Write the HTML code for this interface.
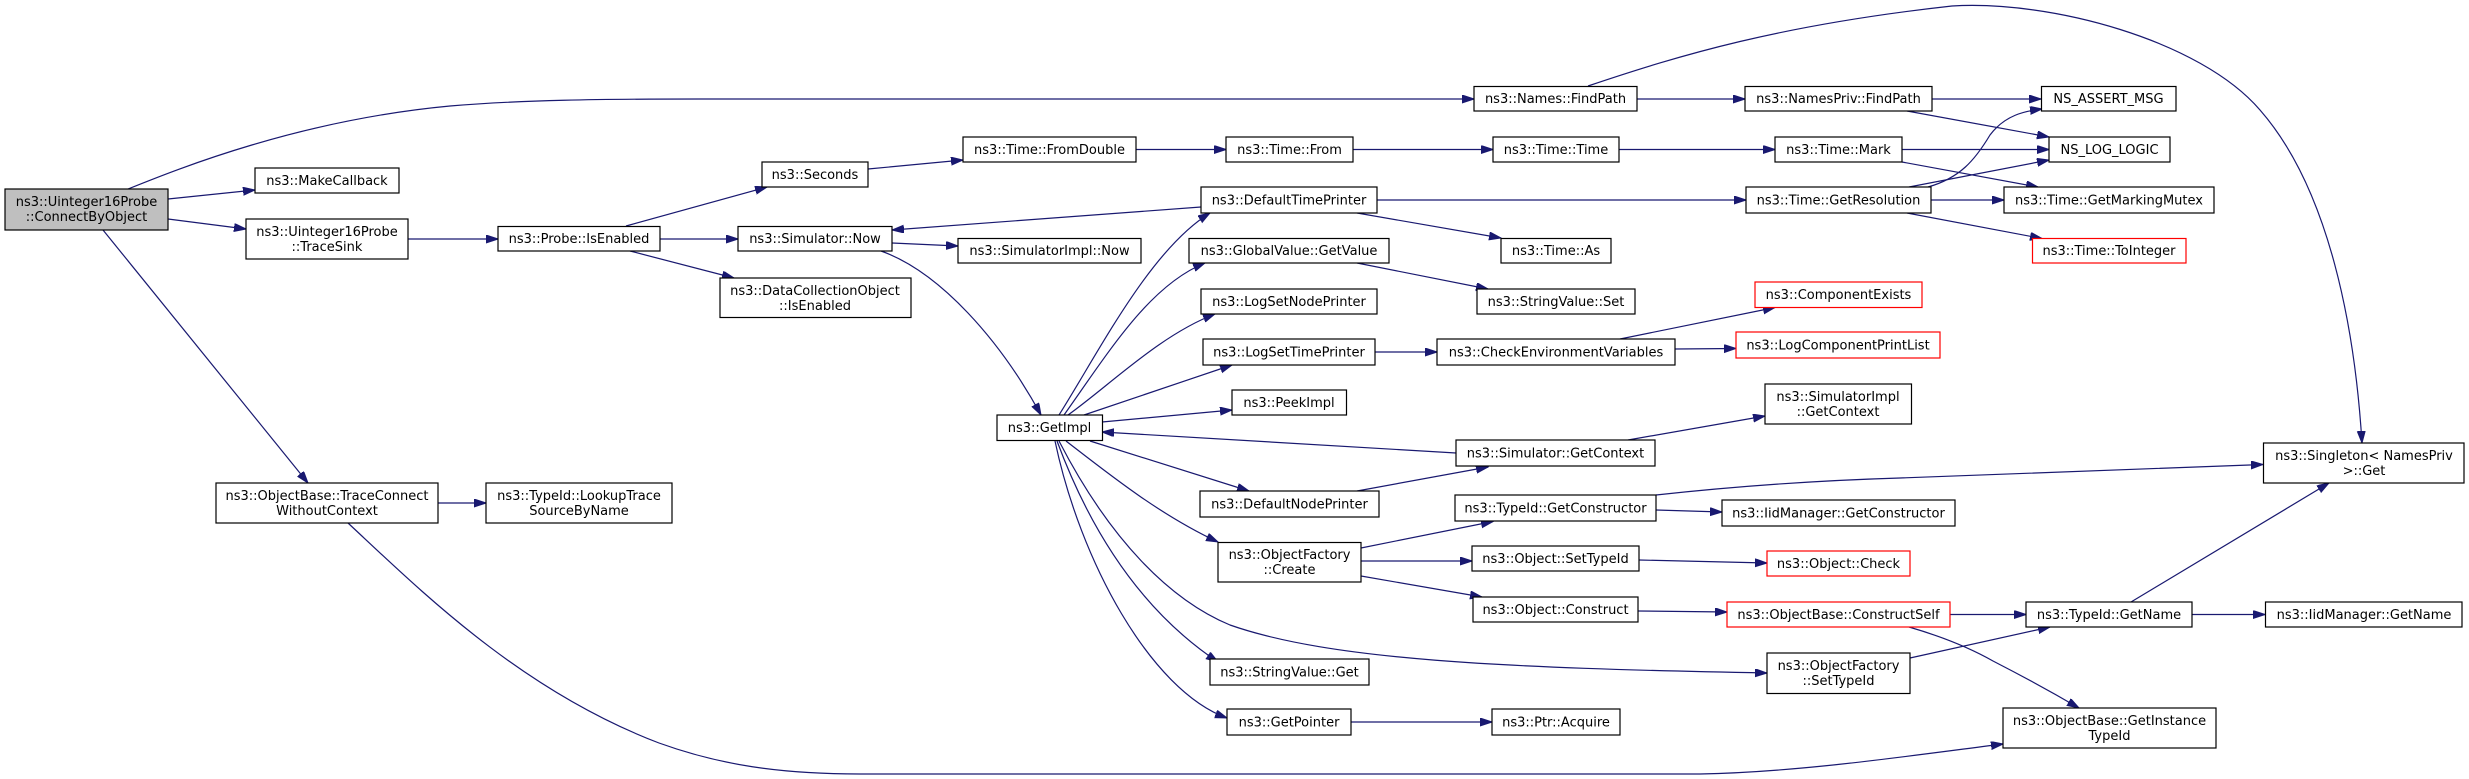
<!DOCTYPE html>
<html><head><meta charset="utf-8"><style>
html,body{margin:0;padding:0;background:#fff;}
svg{display:block;}
text{font-family:"DejaVu Sans","Liberation Sans",sans-serif;font-size:13px;fill:#000;text-anchor:middle;}
rect{fill:#fff;stroke:#000;stroke-width:1.2;}
rect.r{stroke:#f00;}
rect.g{fill:#bfbfbf;}
path{fill:none;stroke:#191970;stroke-width:1.2;}
</style></head><body>
<svg width="2469" height="779" viewBox="0 0 2469 779" xmlns="http://www.w3.org/2000/svg">
<defs><marker id="a" markerUnits="userSpaceOnUse" markerWidth="13" markerHeight="9" refX="12" refY="4" orient="auto"><path d="M0,0 L12,4 L0,8 z" style="fill:#191970;stroke:#191970;stroke-width:1"/></marker></defs>
<g marker-end="url(#a)">
<path d="M128,189 C180,168 300,120 450,106 C520,100 600,99 700,99 L1474,99"/>
<path d="M168,199 L255,190"/>
<path d="M168,219 L246,229"/>
<path d="M103,230 L308,483"/>
<path d="M408,239 L498,239"/>
<path d="M438,503 L486,503"/>
<path d="M348,523 C420,590 520,690 659,743 C720,765 780,774 860,774 L1700,774 C1800,772 1900,757 2003,744"/>
<path d="M626,226 L767,187"/>
<path d="M660,239 L738,239"/>
<path d="M630,251 L734,278"/>
<path d="M868,169 L963,160"/>
<path d="M1136,149.5 L1226,149.5"/>
<path d="M1353,149.5 L1493,149.5"/>
<path d="M1619,149.5 L1775,149.5"/>
<path d="M892,243 L958,246"/>
<path d="M881,251 C940,272 1000,340 1041,415"/>
<path d="M1201,207 L892,230"/>
<path d="M1059,415 C1100,350 1150,250 1210,213"/>
<path d="M1064,415 C1110,350 1150,285 1205,263"/>
<path d="M1068,415 C1110,385 1160,335 1215,314"/>
<path d="M1084,415 L1232,365"/>
<path d="M1102,422 L1232,410"/>
<path d="M1456,453 L1102,432"/>
<path d="M1090,441 L1249,491"/>
<path d="M1066,441 C1110,475 1160,515 1218,542"/>
<path d="M1059,441 C1110,540 1170,600 1230,625 C1330,660 1500,668 1767,673"/>
<path d="M1057,441 C1090,530 1140,610 1218,662"/>
<path d="M1055,441 C1080,560 1150,690 1227,718"/>
<path d="M1377,200 L1746,200"/>
<path d="M1357,213 L1501,238"/>
<path d="M1357,263 L1488,289"/>
<path d="M1375,352 L1437,352"/>
<path d="M1620,339 L1775,307.5"/>
<path d="M1675,349 L1736,348.5"/>
<path d="M1628,440 L1765,416"/>
<path d="M1357,491 L1488,467"/>
<path d="M1361,548 L1493,521.5"/>
<path d="M1361,561 L1472,561"/>
<path d="M1361,576 L1482,597"/>
<path d="M1656,510 L1722,512"/>
<path d="M1656,495 C1720,488 1800,481 1900,478 L2263,464.5"/>
<path d="M1639,560 L1767,563"/>
<path d="M1638,611 L1727,612"/>
<path d="M1351,722 L1492,722"/>
<path d="M1637,99 L1745,99"/>
<path d="M1588,86 C1680,55 1780,25 1952,6 C2050,0 2200,40 2260,110 C2330,190 2355,330 2362,443"/>
<path d="M1932,99 L2041,99"/>
<path d="M1907,111 L2049,137"/>
<path d="M1902,149.5 L2049,149.5"/>
<path d="M1902,162 L2038,187"/>
<path d="M1928,187 C1960,178 1975,160 1990,135 C2005,115 2025,111 2042,109"/>
<path d="M1909,187 L2049,160"/>
<path d="M1931,200 L2004,200"/>
<path d="M1907,213 L2042,238.5"/>
<path d="M1950,614.5 L2026,614.5"/>
<path d="M1909,627 C1940,636 1970,648 1993,661 C2030,680 2055,694 2079,708"/>
<path d="M1910,658 L2050,627"/>
<path d="M2131,602 L2329,483"/>
<path d="M2192,614.5 L2265,614.5"/>
</g>
<!-- nodes -->
<rect class="g" x="5" y="189" width="163" height="41"/><text x="86.5" y="206">ns3::Uinteger16Probe</text><text x="86.5" y="221">::ConnectByObject</text>
<rect x="255" y="168" width="144" height="25"/><text x="327" y="185">ns3::MakeCallback</text>
<rect x="246" y="219" width="162" height="40"/><text x="327" y="236">ns3::Uinteger16Probe</text><text x="327" y="251">::TraceSink</text>
<rect x="498" y="226.5" width="162" height="24.5"/><text x="579" y="243">ns3::Probe::IsEnabled</text>
<rect x="216" y="483" width="222" height="40"/><text x="327" y="500">ns3::ObjectBase::TraceConnect</text><text x="327" y="515">WithoutContext</text>
<rect x="486" y="483" width="186" height="40"/><text x="579" y="500">ns3::TypeId::LookupTrace</text><text x="579" y="515">SourceByName</text>
<rect x="762" y="162" width="106" height="25"/><text x="815" y="179">ns3::Seconds</text>
<rect x="963" y="137" width="173" height="25"/><text x="1049.5" y="154">ns3::Time::FromDouble</text>
<rect x="738" y="226.5" width="154" height="24.5"/><text x="815" y="243">ns3::Simulator::Now</text>
<rect x="958" y="238.5" width="183" height="24.5"/><text x="1049.5" y="255">ns3::SimulatorImpl::Now</text>
<rect x="720" y="278" width="191" height="39.5"/><text x="815" y="295">ns3::DataCollectionObject</text><text x="815" y="310">::IsEnabled</text>
<rect x="997" y="415" width="105.5" height="25.5"/><text x="1049.5" y="432">ns3::GetImpl</text>
<rect x="1474" y="86.5" width="163" height="24.5"/><text x="1555.5" y="103">ns3::Names::FindPath</text>
<rect x="1226" y="137" width="127" height="25"/><text x="1289.5" y="154">ns3::Time::From</text>
<rect x="1493" y="137" width="126" height="25"/><text x="1556" y="154">ns3::Time::Time</text>
<rect x="1201" y="187" width="176" height="26"/><text x="1289" y="204.5">ns3::DefaultTimePrinter</text>
<rect x="1501" y="238.5" width="110" height="24.5"/><text x="1556" y="255">ns3::Time::As</text>
<rect x="1189" y="238.5" width="200" height="24.5"/><text x="1289" y="255">ns3::GlobalValue::GetValue</text>
<rect x="1201" y="289" width="176" height="25"/><text x="1289" y="306">ns3::LogSetNodePrinter</text>
<rect x="1477" y="289" width="158" height="25"/><text x="1556" y="306">ns3::StringValue::Set</text>
<rect x="1203" y="339" width="172" height="26"/><text x="1289" y="356.5">ns3::LogSetTimePrinter</text>
<rect x="1437" y="339" width="238" height="26"/><text x="1556" y="356.5">ns3::CheckEnvironmentVariables</text>
<rect x="1232" y="390" width="114.5" height="25"/><text x="1289" y="407">ns3::PeekImpl</text>
<rect x="1456" y="440" width="199" height="26"/><text x="1555.5" y="457.5">ns3::Simulator::GetContext</text>
<rect x="1200" y="491" width="179" height="26"/><text x="1289.5" y="508.5">ns3::DefaultNodePrinter</text>
<rect x="1218" y="542.5" width="143" height="39.5"/><text x="1289.5" y="559">ns3::ObjectFactory</text><text x="1289.5" y="574">::Create</text>
<rect x="1455" y="495" width="201" height="26"/><text x="1555.5" y="512.5">ns3::TypeId::GetConstructor</text>
<rect x="1472" y="546" width="167" height="25"/><text x="1555.5" y="563">ns3::Object::SetTypeId</text>
<rect x="1473" y="597" width="165" height="25"/><text x="1555.5" y="614">ns3::Object::Construct</text>
<rect x="1210" y="659" width="159" height="26"/><text x="1289.5" y="676.5">ns3::StringValue::Get</text>
<rect x="1227" y="709" width="124" height="26"/><text x="1289" y="726.5">ns3::GetPointer</text>
<rect x="1492" y="709" width="128" height="26"/><text x="1556" y="726.5">ns3::Ptr::Acquire</text>
<rect x="1765" y="384" width="146.5" height="40"/><text x="1838" y="401">ns3::SimulatorImpl</text><text x="1838" y="416">::GetContext</text>
<rect x="1745" y="86.5" width="187" height="24.5"/><text x="1838.5" y="103">ns3::NamesPriv::FindPath</text>
<rect x="1775" y="137" width="127" height="25"/><text x="1838.5" y="154">ns3::Time::Mark</text>
<rect x="1746" y="187" width="185" height="26"/><text x="1838.5" y="204.5">ns3::Time::GetResolution</text>
<rect class="r" x="1755" y="282" width="167" height="25.5"/><text x="1838.5" y="299">ns3::ComponentExists</text>
<rect class="r" x="1736" y="332" width="204" height="26"/><text x="1838" y="349.5">ns3::LogComponentPrintList</text>
<rect x="1722" y="500" width="233" height="26"/><text x="1838.5" y="517.5">ns3::IidManager::GetConstructor</text>
<rect class="r" x="1767" y="551" width="143" height="25"/><text x="1838.5" y="568">ns3::Object::Check</text>
<rect class="r" x="1727" y="602" width="223" height="25"/><text x="1838.5" y="619">ns3::ObjectBase::ConstructSelf</text>
<rect x="1767" y="653" width="143" height="40.5"/><text x="1838.5" y="670">ns3::ObjectFactory</text><text x="1838.5" y="685">::SetTypeId</text>
<rect x="2041.5" y="86.5" width="134.5" height="24.5"/><text x="2108.5" y="103">NS_ASSERT_MSG</text>
<rect x="2049" y="137" width="121" height="25"/><text x="2109.5" y="154">NS_LOG_LOGIC</text>
<rect x="2004" y="187" width="210" height="26"/><text x="2109" y="204.5">ns3::Time::GetMarkingMutex</text>
<rect class="r" x="2032.5" y="238.5" width="153.5" height="24.5"/><text x="2109" y="255">ns3::Time::ToInteger</text>
<rect x="2263.5" y="443" width="200.5" height="40"/><text x="2364" y="460">ns3::Singleton&lt; NamesPriv</text><text x="2364" y="475">&gt;::Get</text>
<rect x="2026" y="602" width="166" height="25"/><text x="2109" y="619">ns3::TypeId::GetName</text>
<rect x="2265.5" y="602" width="196.5" height="25"/><text x="2364" y="619">ns3::IidManager::GetName</text>
<rect x="2003" y="708" width="213" height="40"/><text x="2109.5" y="725">ns3::ObjectBase::GetInstance</text><text x="2109.5" y="740">TypeId</text>
</svg>
</body></html>
